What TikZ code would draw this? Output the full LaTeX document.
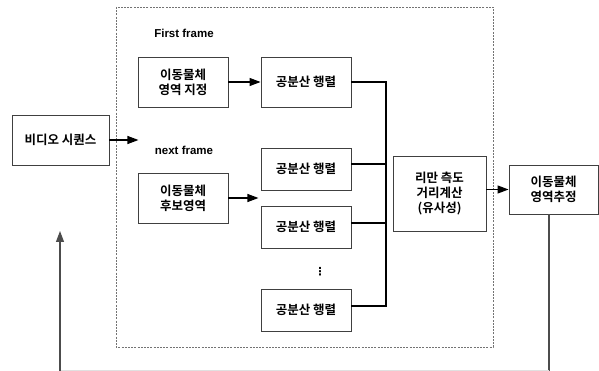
\documentclass[tikz,border=0pt]{standalone}
\usepackage{fontspec}
\setmainfont{Noto Sans CJK KR Bold}
\newfontfamily\latinfont{Liberation Sans Bold}
\newfontfamily\symfont{DejaVu Sans}
\usetikzlibrary{arrows.meta,positioning}
\begin{document}
\begin{tikzpicture}[x=1pt,y=-1pt,
  box/.style={draw=black!75,line width=0.9pt,inner sep=0pt,align=center,
    font=\fontsize{12.5}{15}\selectfont},
  lbl/.style={font=\latinfont\fontsize{11.5}{13}\selectfont,inner sep=0pt},
  conn/.style={draw=black,line width=1.1pt},
  arr/.style={conn,-{Triangle[length=11pt,width=8pt]}}]
\useasboundingbox (0,0) rectangle (599,371);
% dashed frame
\draw[draw=black!55,dash pattern=on 2pt off 1.2pt,line width=0.6pt] (116,7) rectangle (493,347);
% nodes
\node[box,minimum width=97pt,minimum height=50pt] (vid) at (60.5,140) {비디오 시퀀스};
\node[lbl] (ff) at (184,33) {First frame};
\node[lbl] (nf) at (184,150) {next frame};
\node[box,minimum width=90pt,minimum height=50pt] (sel) at (183,82) {이동물체\\영역 지정};
\node[box,minimum width=90pt,minimum height=50pt] (cand) at (183,198) {이동물체\\후보영역};
\node[box,minimum width=90pt,minimum height=50pt] (c1) at (306,82) {공분산 행렬};
\node[box,minimum width=90pt,minimum height=42pt] (c2) at (306,169) {공분산 행렬};
\node[box,minimum width=90pt,minimum height=42pt] (c3) at (306,227) {공분산 행렬};
\node[box,minimum width=90pt,minimum height=42pt] (c4) at (306,310) {공분산 행렬};
\node[font=\symfont\bfseries\fontsize{11}{11}\selectfont,inner sep=0pt] (dots) at (320,272) {⋮};
\node[box,minimum width=93pt,minimum height=75pt] (rie) at (439.5,193.5) {리만 측도\\거리계산\\(유사성)};
\node[box,minimum width=89pt,minimum height=49pt] (est) at (553.5,189.5) {이동물체\\영역추정};
\coordinate (busT) at (386,82);
\coordinate (busB) at (386,306);
\coordinate (estB) at (549,371);
\coordinate (retB) at (60,371);
\coordinate (retT) at (60,231);
% connectors
\draw[arr] (vid.east) -- ++(29,0);
\draw[arr] (sel.east) -- (c1.west);
\draw[arr] (cand.east) -- ++(30,0);
\draw[conn] (c1.east) -- (busT) -- (busB) -- (c4.east |- busB);
\draw[conn] (c2.east |- 0,164) -- (386,164);
\draw[conn] (c3.east |- 0,223) -- (386,223);
\draw[arr] (rie.east |- est.west) -- (est.west);
\draw[conn,draw=black!70] (est.south -| estB) -- (estB);
\draw[draw=black!12,line width=0.8pt] (estB |- 0,370) -- (retB |- 0,370);
\draw[arr,draw=black!70] (retB) -- (retT);
\end{tikzpicture}
\end{document}
